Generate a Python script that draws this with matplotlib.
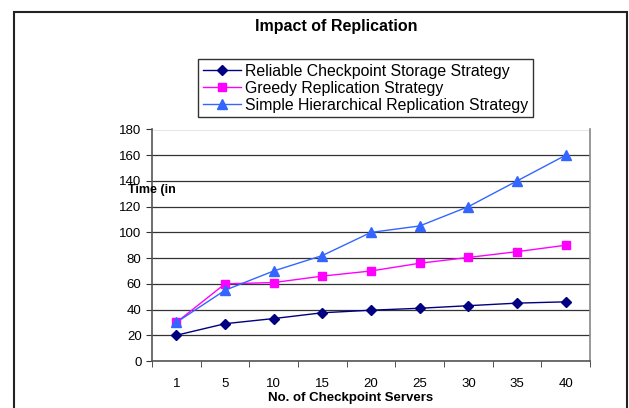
import matplotlib.pyplot as plt
from matplotlib.patches import Rectangle

plt.rcParams['font.family'] = ['Liberation Sans', 'DejaVu Sans']

servers = ["1", "5", "10", "15", "20", "25", "30", "35", "40"]
reliable = [20, 29, 33, 37.5, 39.5, 41, 43, 45, 46]
greedy = [30, 60, 61, 66, 70, 76, 80.5, 85, 90]
simple = [30, 55, 70, 82, 100, 105, 120, 140, 160]

fig = plt.figure(figsize=(6.29, 4.08), dpi=100)

# outer chart border
fig.patches.append(Rectangle((14 / 629, -0.02), 613 / 629, 0.02 + 396 / 408,
                             transform=fig.transFigure, fill=False,
                             edgecolor="#222222", linewidth=1.5))

ax = fig.add_axes([152 / 629, 47 / 408, 438 / 629, 231.5 / 408])
x = list(range(len(servers)))

ax.plot(x, reliable, color="#000080", marker="D", markersize=5, linewidth=1,
        label="Reliable Checkpoint Storage Strategy")
ax.plot(x, greedy, color="#FF00FF", marker="s", markersize=6, linewidth=1,
        label="Greedy Replication Strategy")
ax.plot(x, simple, color="#3366FF", marker="^", markersize=7, linewidth=1,
        label="Simple Hierarchical Replication Strategy")

ax.set_xlim(-0.5, len(servers) - 0.5)
ax.set_ylim(0, 180)
ax.set_yticks(range(0, 181, 20))
ax.set_xticks(x)
ax.set_xticklabels(servers, fontsize=9.5)
ax.tick_params(axis="x", length=0, pad=12)
ax.set_xticks([i + 0.5 for i in range(-1, len(servers))], minor=True)
ax.tick_params(axis="x", which="minor", length=4, direction="out", color="#333333")
ax.tick_params(axis="y", labelsize=9.5, length=4, direction="out", color="#333333")
ax.yaxis.grid(True, color="#333333", linewidth=0.9)
ax.set_axisbelow(True)
for s in ["left", "bottom", "right"]:
    ax.spines[s].set_color("#555555")
    ax.spines[s].set_linewidth(1.2)
ax.spines["top"].set_visible(False)
ax.spines["right"].set_color("#888888")

fig.text(351 / 629, 1 - 398 / 408, "No. of Checkpoint Servers", fontsize=9.5,
         fontweight="bold", ha="center", va="center")
fig.text(128 / 629, 1 - 190 / 408, "Time (in", fontsize=9, fontweight="bold",
         va="center", ha="left")

fig.text(336 / 629, 1 - 26 / 408, "Impact of Replication", fontsize=11.5,
         fontweight="bold", ha="center", va="center")

leg = fig.legend(loc="upper left", bbox_to_anchor=(198 / 629, 1 - 59 / 408),
                 fontsize=11.4, frameon=True, fancybox=False, handlelength=2.4,
                 borderpad=0.3, labelspacing=0.12, handletextpad=0.25,
                 borderaxespad=0)
leg.get_frame().set_edgecolor("#000000")
leg.get_frame().set_linewidth(1)

fig.savefig("out.png", dpi=100)
